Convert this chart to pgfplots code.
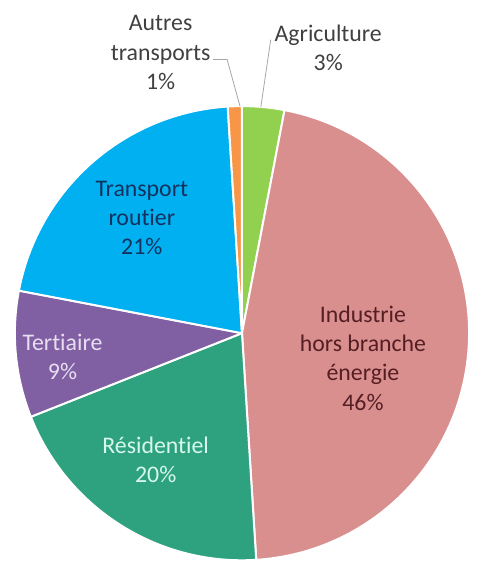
\documentclass[border=0pt]{standalone}
\usepackage{pgfplots}
\pgfplotsset{compat=1.18}
\usepackage{fontspec}
\setmainfont{Carlito}[Ligatures={NoCommon}]
\definecolor{cAgri}{RGB}{146,208,80}
\definecolor{cInd}{RGB}{218,143,143}
\definecolor{cRes}{RGB}{46,162,127}
\definecolor{cTer}{RGB}{128,96,162}
\definecolor{cTra}{RGB}{0,176,240}
\definecolor{cAut}{RGB}{247,150,70}
\definecolor{tInd}{RGB}{85,30,35}
\definecolor{tTra}{RGB}{20,50,95}
\definecolor{tTer}{RGB}{232,222,242}
\definecolor{tRes}{RGB}{215,248,235}
\definecolor{tOut}{RGB}{64,64,64}
\definecolor{lead}{RGB}{166,166,166}
\begin{document}
\begin{tikzpicture}
\begin{axis}[
  scale only axis, width=475bp, height=567bp,
  xmin=0, xmax=475, ymin=0, ymax=567,
  hide axis, clip=false,
]
\addplot[draw=none] coordinates {(0,0) (475,567)};
\path (rel axis cs:0,0) rectangle (rel axis cs:1,1);
% pie: values in percent, clockwise from 12 o'clock
\pgfplotsextra{
  \gdef\cumang{90}
  \foreach \v/\c in {3/cAgri,46/cInd,20/cRes,9/cTer,21/cTra,1/cAut}{
    \pgfmathsetmacro\s{\cumang}
    \pgfmathsetmacro\e{\cumang-3.6*\v}
    \fill[\c, draw=white, line width=2bp, line join=round]
      (axis cs:244,231) -- ++(\s:229bp) arc[start angle=\s, end angle=\e, radius=229bp] -- cycle;
    \xdef\cumang{\e}
  }
}
\draw[lead, line width=0.8bp] (axis cs:215,507) -- (axis cs:229,507) -- (axis cs:242,460);
\draw[lead, line width=0.8bp] (axis cs:273,527) -- (axis cs:263,459);
\begin{scope}[every node/.style={align=center, font=\fontsize{24bp}{29.5bp}\selectfont}]
\node[text=tOut] at (axis cs:162,514) {Autres\\transports\\1\%};
\node[text=tOut] at (axis cs:331,519) {Agriculture\\3\%};
\node[text=tTra] at (axis cs:143,347) {Transport\\routier\\21\%};
\node[text=tTer] at (axis cs:63,207) {Tertiaire\\9\%};
\node[text=tRes] at (axis cs:157,103) {Résidentiel\\20\%};
\node[text=tInd] at (axis cs:366,206) {Industrie\\hors branche\\énergie\\46\%};
\end{scope}
\end{axis}
\end{tikzpicture}
\end{document}
